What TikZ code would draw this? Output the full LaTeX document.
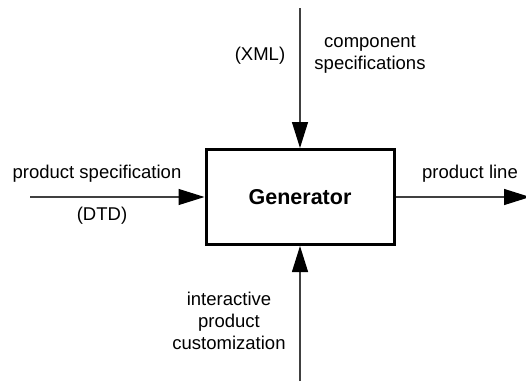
\documentclass[tikz,border=0pt]{standalone}
\usepackage{fontspec}
\setmainfont{Liberation Sans}
\usetikzlibrary{arrows.meta}
\begin{document}
\begin{tikzpicture}[x=1pt,y=-1pt,
  every node/.style={font=\fontsize{18.5}{22}\selectfont, inner sep=0pt},
  block/.style={draw, line width=3pt, minimum width=188pt, minimum height=95pt, font=\fontsize{21.5}{24}\selectfont\bfseries},
  flow/.style={draw=black!75, line width=1.2pt, -{Triangle[length=26pt,width=16pt,color=black,fill=black]}},
  lbl/.style={align=center}]
  \useasboundingbox (0,0) rectangle (526,381);

  % central activity box
  \node[block] (gen) at (300,197) {Generator};

  % free ends of the four connectors
  \coordinate (topend) at (300,8);
  \coordinate (botend) at (300,381);
  \coordinate (leftend) at (30,197);
  \coordinate (rightend) at (530,197);

  \draw[flow] (topend) -- (gen.north);
  \draw[flow] (botend) -- (gen.south);
  \draw[flow] (leftend) -- (gen.west);
  \draw[flow] (gen.east) -- (rightend);

  % labels
  \node[lbl] (xml) at (260,56) {(XML)};
  \node[lbl] (comp) at (370,54) {component\\specifications};
  \node[lbl] (pspec) at (97,174) {product specification};
  \node[lbl] (dtd) at (102,216) {(DTD)};
  \node[lbl] (pline) at (470,174) {product line};
  \node[lbl] (cust) at (229,321) {interactive\\product\\customization};
\end{tikzpicture}
\end{document}
